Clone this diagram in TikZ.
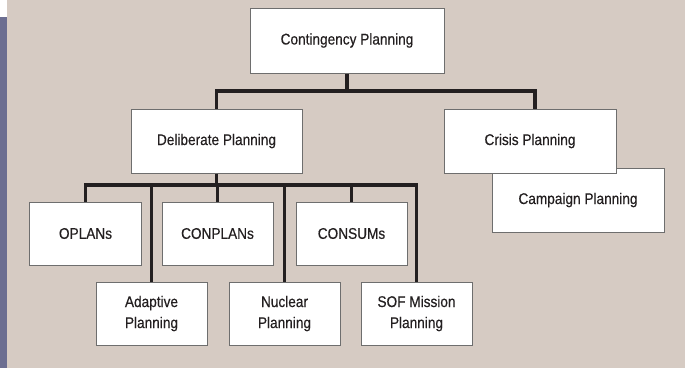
\documentclass[tikz,border=0pt]{standalone}
\usepackage{fontspec}
\setmainfont{Liberation Sans}[FakeStretch=0.88,FakeBold=0.4]
\definecolor{bgbeige}{RGB}{214,203,195}
\definecolor{strip}{RGB}{108,110,145}
\definecolor{ink}{RGB}{35,31,32}
\definecolor{edge}{RGB}{110,110,110}
\begin{document}
\begin{tikzpicture}[x=1bp,y=-1bp,
  box/.style={draw=edge,line width=1bp,fill=white,inner sep=0pt,align=center,
    text=ink,font=\fontsize{15.5bp}{21bp}\selectfont},
  wide/.style={box,minimum width=172bp,minimum height=64bp},
  small/.style={box,minimum width=111bp,minimum height=63bp},
  link/.style={draw=ink,line width=3.5bp}]
\useasboundingbox (0,0) rectangle (685,368);
\fill[bgbeige] (7,0) rectangle (685,368);
\fill[white] (0,0) rectangle (7,17);
\fill[strip] (0,17) rectangle (7,368);
% nodes
\node[box,minimum width=194bp,minimum height=65bp] (cont) at (347,40.5) {Contingency Planning};
\node[wide,minimum width=171bp] (delib) at (216.5,141) {Deliberate Planning};
\node[wide] (campaign) at (578,200) {Campaign Planning};
\node[wide] (crisis) at (530,141) {Crisis Planning};
\node[small] (oplans) at (85.5,233.5) {OPLANs};
\node[small] (conplans) at (217.5,233.5) {CONPLANs};
\node[small] (consums) at (351.5,233.5) {CONSUMs};
\node[small] (adaptive) at (151.5,313.5) {Adaptive\\Planning};
\node[small] (nuclear) at (284.5,313.5) {Nuclear\\Planning};
\node[small] (sof) at (416.5,313.5) {SOF Mission\\Planning};
% bus coordinates
\coordinate (b1) at (0,91);
\coordinate (b2) at (0,185);
\coordinate (cr) at ([xshift=5bp]crisis.north);
% connectors
\draw[link] (cont.south) -- (cont.south |- b1);
\draw[link] (delib.north) -- (delib.north |- b1) -- (cr |- b1) -- (cr);
\draw[link] (delib.south) -- (delib.south |- b2);
\draw[link] (oplans.north) -- (oplans.north |- b2) -- (sof.north |- b2) -- (sof.north);
\draw[link] (conplans.north) -- (conplans.north |- b2);
\draw[link] (consums.north) -- (consums.north |- b2);
\draw[link] (adaptive.north) -- (adaptive.north |- b2);
\draw[link] (nuclear.north) -- (nuclear.north |- b2);
\end{tikzpicture}
\end{document}
